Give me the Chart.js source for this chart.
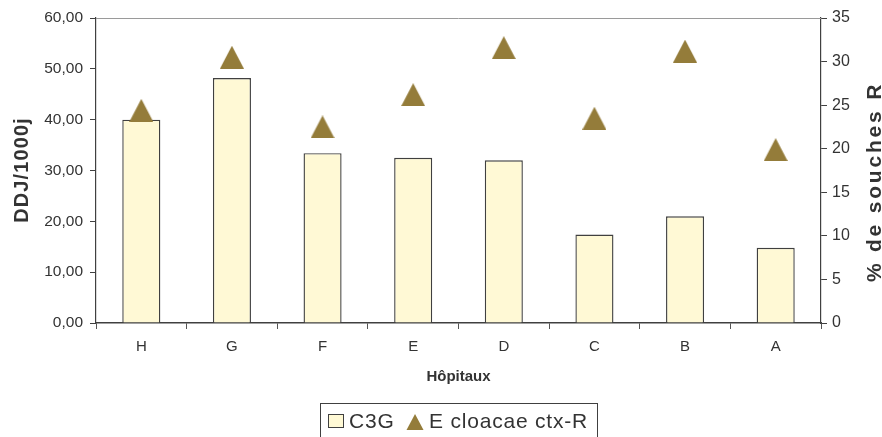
<!DOCTYPE html>
<html>
<head>
<meta charset="utf-8">
<script src="https://cdn.jsdelivr.net/npm/chart.js@4/dist/chart.umd.min.js"></script>
<style>
  html, body { margin: 0; padding: 0; background: #ffffff; }
  #wrap { width: 882px; height: 437px; position: relative; }
</style>
</head>
<body>
<div id="wrap"><canvas id="chart" width="882" height="437"></canvas></div>
<script>
// Hospitals, C3G consumption (DDJ/1000j) and % of resistant E. cloacae strains
const hopitaux = ['H', 'G', 'F', 'E', 'D', 'C', 'B', 'A'];
const ddjC3G = [40.0, 48.2, 33.4, 32.5, 32.0, 17.4, 21.0, 14.8];
const pctCloacae = [24.4, 30.5, 22.5, 26.2, 31.6, 23.5, 31.2, 19.9];
const ddjTicks = [0, 10, 20, 30, 40, 50, 60];
const pctTicks = [0, 5, 10, 15, 20, 25, 30, 35];

const FONT = '"Liberation Sans", Arial, sans-serif';
const TEXT = '#333333';
const AXIS = '#404040';
const BAR_FILL = '#FFF9D5';
const TRI_FILL = '#947C3A';

// triangle marker drawn once into a small canvas, centred on each point
function triangleMarker(w, h) {
  const c = document.createElement('canvas');
  c.width = w; c.height = h;
  const g = c.getContext('2d');
  g.fillStyle = TRI_FILL;
  g.beginPath();
  g.moveTo(w / 2, 0);
  g.lineTo(w, h);
  g.lineTo(0, h);
  g.closePath();
  g.fill();
  return c;
}
const triImg = triangleMarker(24, 23);

const decorations = {
  id: 'decorations',
  beforeDatasetsDraw(chart) {
    const { ctx, chartArea: a } = chart;
    ctx.save();
    ctx.strokeStyle = '#9a9a9a';
    ctx.lineWidth = 1;
    ctx.beginPath();
    ctx.moveTo(a.left, a.top + 0.5);
    ctx.lineTo(a.right, a.top + 0.5);
    ctx.stroke();
    ctx.restore();
  },
  afterDraw(chart) {
    const { ctx } = chart;
    ctx.save();
    ctx.fillStyle = TEXT;
    ctx.textAlign = 'center';
    ctx.textBaseline = 'alphabetic';

    // left axis title
    ctx.font = 'bold 20px ' + FONT;
    ctx.letterSpacing = '1.1px';
    ctx.save();
    ctx.translate(28, 170);
    ctx.rotate(-Math.PI / 2);
    ctx.fillText('DDJ/1000j', 0, 0);
    ctx.restore();

    // right axis title
    ctx.font = 'bold 21px ' + FONT;
    ctx.letterSpacing = '2.8px';
    ctx.save();
    ctx.translate(881, 182);
    ctx.rotate(-Math.PI / 2);
    ctx.fillText('% de souches R', 0, 0);
    ctx.restore();

    // legend
    ctx.letterSpacing = '0px';
    ctx.strokeStyle = AXIS;
    ctx.lineWidth = 1;
    ctx.strokeRect(320.5, 403.5, 277, 40);

    const barDs = chart.data.datasets[1];
    const triDs = chart.data.datasets[0];
    ctx.fillStyle = BAR_FILL;
    ctx.fillRect(328.5, 414.5, 15, 13);
    ctx.strokeStyle = AXIS;
    ctx.strokeRect(328.5, 414.5, 15, 13);

    ctx.fillStyle = TRI_FILL;
    ctx.beginPath();
    ctx.moveTo(415, 414);
    ctx.lineTo(423.5, 430);
    ctx.lineTo(406.5, 430);
    ctx.closePath();
    ctx.fill();

    ctx.fillStyle = TEXT;
    ctx.textAlign = 'left';
    ctx.font = '21px ' + FONT;
    ctx.letterSpacing = '0.8px';
    ctx.fillText(barDs.label, 349, 428);
    ctx.fillText(triDs.label, 429, 428);
    ctx.restore();
  }
};

new Chart(document.getElementById('chart'), {
  data: {
    labels: hopitaux,
    datasets: [
      {
        type: 'line',
        label: 'E cloacae ctx-R',
        data: pctCloacae,
        yAxisID: 'y1',
        showLine: false,
        pointStyle: triImg,
        pointRadius: 12,
        pointHoverRadius: 12,
        order: 0
      },
      {
        type: 'bar',
        label: 'C3G',
        data: ddjC3G,
        yAxisID: 'y',
        backgroundColor: BAR_FILL,
        borderColor: AXIS,
        borderWidth: 1.4,
        barPercentage: 0.42,
        categoryPercentage: 1.0,
        order: 1
      }
    ]
  },
  options: {
    responsive: false,
    animation: false,
    devicePixelRatio: 1,
    layout: { padding: { left: 0, right: 0, top: 18, bottom: 39 } },
    plugins: {
      legend: { display: false },
      tooltip: { enabled: false }
    },
    scales: {
      x: {
        offset: true,
        afterFit(s) { s.height = 75; },
        grid: {
          offset: true,
          drawOnChartArea: false,
          drawTicks: true,
          tickLength: 6,
          color: '#555555'
        },
        border: { display: true, color: AXIS, width: 1.4 },
        ticks: { color: TEXT, padding: 9, font: { family: FONT, size: 15 } },
        title: {
          display: true,
          text: 'Hôpitaux',
          color: TEXT,
          font: { family: FONT, size: 15, weight: 'bold' },
          padding: { top: 0, bottom: 12 }
        }
      },
      y: {
        position: 'left',
        min: 0,
        max: 60,
        afterFit(s) { s.width = 96; },
        afterBuildTicks(s) { s.ticks = ddjTicks.map(v => ({ value: v })); },
        grid: { drawOnChartArea: false, drawTicks: true, tickLength: 6, color: AXIS },
        border: { display: true, color: AXIS, width: 1.2 },
        ticks: {
          color: TEXT,
          padding: 7,
          font: { family: FONT, size: 15.5 },
          callback: v => v.toFixed(2).replace('.', ',')
        }
      },
      y1: {
        position: 'right',
        min: 0,
        max: 35,
        afterFit(s) { s.width = 61; },
        afterBuildTicks(s) { s.ticks = pctTicks.map(v => ({ value: v })); },
        grid: { drawOnChartArea: false, drawTicks: true, tickLength: 6, color: AXIS },
        border: { display: true, color: AXIS, width: 1.2 },
        ticks: {
          color: TEXT,
          padding: 5,
          font: { family: FONT, size: 16 },
          callback: v => String(v)
        }
      }
    }
  },
  plugins: [decorations]
});
</script>
</body>
</html>
